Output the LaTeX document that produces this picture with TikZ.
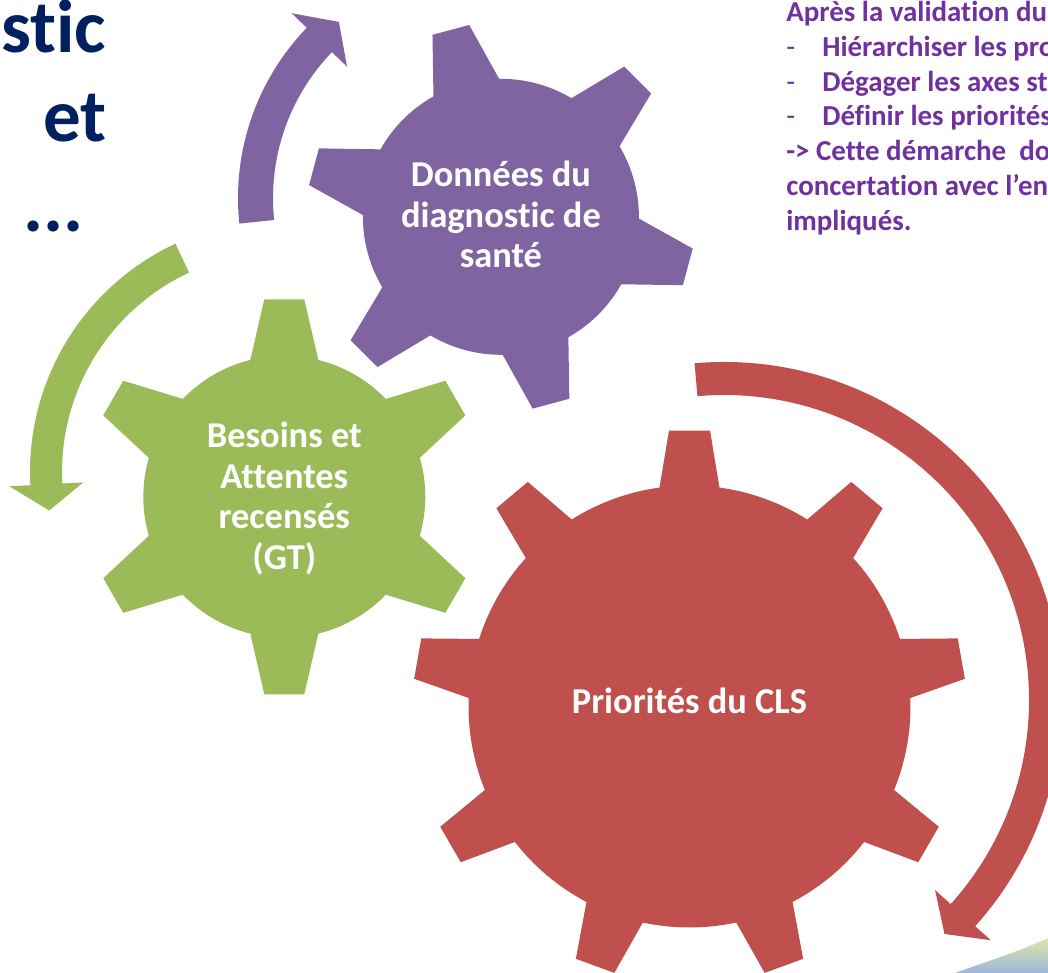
\documentclass[tikz,border=0pt]{standalone}
\usepackage{fontspec}
\setmainfont{Carlito}[Ligatures={TeX,NoCommon}]
\definecolor{gpurple}{HTML}{8064A2}
\definecolor{ggreen}{HTML}{9BBB59}
\definecolor{gred}{HTML}{C0504D}
\definecolor{navy}{HTML}{002060}
\definecolor{txtpurple}{HTML}{7030A0}
\definecolor{swoopA}{HTML}{DCE8A6}
\definecolor{swoopB}{HTML}{9DB5DA}

% gear: cx cy n offset R r wt wb color  (visual angles, y downwards)
\newcommand{\drawgear}[9]{%
  \pgfmathsetmacro{\gstep}{360/#3}%
  \pgfmathsetmacro{\gab}{asin(#8/#6)}%
  \pgfmathsetmacro{\gat}{atan(#7/#5)}%
  \pgfmathsetmacro{\gRt}{veclen(#5,#7)}%
  \pgfmathtruncatemacro{\glast}{#3-1}%
  \fill[#9, shift={(#1,#2)}] ({-(#4-\gab)}:#6)
    \foreach \k [evaluate=\k as \p using #4+\k*\gstep] in {0,...,\glast} {
      -- ({-(\p-\gat)}:\gRt) -- ({-(\p+\gat)}:\gRt) -- ({-(\p+\gab)}:#6)
      arc[start angle={-(\p+\gab)}, end angle={-(\p+\gstep-\gab)}, radius=#6]
    } -- cycle;
}
% circular arrow: cx cy Rin Rout Astart Aend Atip color
\newcommand{\cirarrow}[8]{%
  \pgfmathsetmacro{\amid}{(#3+#4)/2}%
  \fill[#8] ({#1+#4*cos(#5)},{#2-#4*sin(#5)})
    arc[start angle={-(#5)}, end angle={-(#6)}, radius=#4]
    -- ({#1+(#4+21)*cos(#6)},{#2-(#4+21)*sin(#6)})
    -- ({#1+\amid*cos(#7)},{#2-\amid*sin(#7)})
    -- ({#1+(#3-21)*cos(#6)},{#2-(#3-21)*sin(#6)})
    -- ({#1+#3*cos(#6)},{#2-#3*sin(#6)})
    arc[start angle={-(#6)}, end angle={-(#5)}, radius=#3]
    -- cycle;
}

\begin{document}
\begin{tikzpicture}[x=0.75pt, y=-0.75pt,
  gtext/.style={text=white, font=\bfseries\fontsize{27.3}{30.4}\selectfont, align=center, inner sep=0pt},
  titletxt/.style={text=navy, font=\bfseries\fontsize{56.25}{67}\selectfont, inner sep=0pt, anchor=base east},
  rtext/.style={text=txtpurple, font=\bfseries\fontsize{21.7}{26.1}\selectfont, align=left, inner sep=0pt, anchor=north west}]
\useasboundingbox (0,0) rectangle (1048,973);
\clip (0,0) rectangle (1048,973);

% decorative swoosh bottom right
\shade[top color=swoopA, bottom color=swoopB] (955,973) .. controls (985,962) and (1018,952) .. (1048,938) -- (1048,973) -- cycle;

% circular arrows
\cirarrow{483}{198}{210}{245}{186}{136}{129.3}{gpurple}
\cirarrow{282}{472}{220}{252}{115}{183}{189.4}{ggreen}
\cirarrow{724}{700}{305}{338}{95}{-42}{-46.7}{gred}

% gears
\drawgear{500.9}{216.8}{6}{45}{193.5}{138}{19}{34}{gpurple}
\drawgear{284.3}{496.8}{6}{30}{197.5}{141}{20}{34}{ggreen}
\drawgear{689.5}{706.5}{9}{10}{276}{221}{20.5}{30}{gred}

% gear labels
\node[gtext] (donnees) at (500.9,214.5) {Données du\\diagnostic de\\santé};
\node[gtext] (besoins) at (284.3,498.5) {Besoins et\\Attentes\\recensés\\(GT)};
\node[gtext, anchor=base] (priorites) at (689.5,713) {Priorités du CLS};

% title
\node[titletxt, anchor=base west] (title1) at (1,53) {stic};
\node[titletxt] (title2) at (107,142) {et};
\node[titletxt] (title3) at (83.5,232) {...};

% right text block
\node[rtext] (notes) at (786,1) {Après la validation du\\
\makebox[27pt][l]{\mdseries -}Hiérarchiser les pro\\
\makebox[27pt][l]{\mdseries -}Dégager les axes st\\
\makebox[27pt][l]{\mdseries -}Définir les priorités\\
-> Cette démarche\ \ do\\
concertation avec l’en\\
impliqués.};
\end{tikzpicture}
\end{document}
